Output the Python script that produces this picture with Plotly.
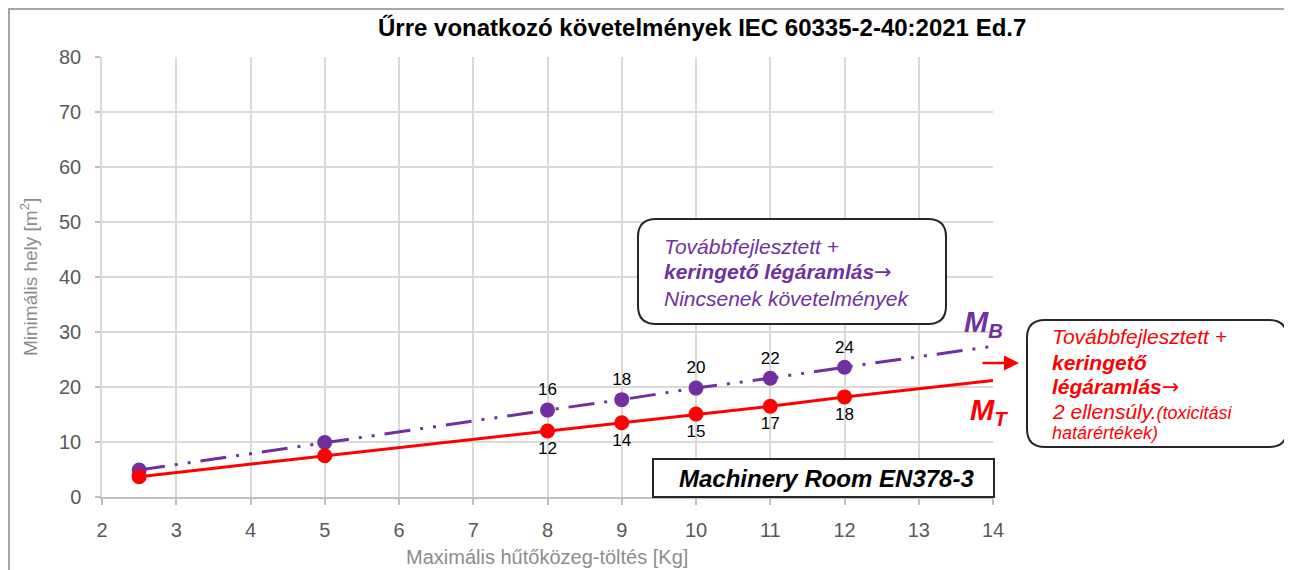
import plotly.graph_objects as go

# ---------------- data ----------------
charge_kg = [2.5, 5, 8, 9, 10, 11, 12, 14]
mt_values = [3.7, 7.5, 12.0, 13.5, 15.1, 16.5, 18.2, 21.2]
mb_values = [4.9, 9.9, 15.8, 17.7, 19.8, 21.6, 23.6, 27.4]
mt_labels = ["", "", "12", "14", "15", "17", "18", ""]
mb_labels = ["", "", "16", "18", "20", "22", "24", ""]
x_ticks = list(range(2, 15))
y_ticks = list(range(0, 90, 10))

title_text = "Űrre vonatkozó követelmények IEC 60335-2-40:2021 Ed.7"
x_title = "Maximális hűtőközeg-töltés [Kg]"
y_title = "Minimális hely [m<sup>2</sup>]"

PURPLE = "#7030A0"
RED = "#FF0000"
FONT = "Liberation Sans, Arial, sans-serif"
ARROW = "<span style='font-family:DejaVu Sans'>→</span>"

OFF = 8  # page body margin
W, H = 1292 - OFF, 570 - OFF
L, R, T, B = 102, 993, 57, 497  # plot area in window pixels


def px(x):
    return (x - L) / (R - L)


def py(y):
    return (B - y) / (B - T)


def rounded_rect(x0, y0, x1, y1, r):
    rx = r / (R - L)
    ry = r / (B - T)
    X0, X1 = px(x0), px(x1)
    Yt, Yb = py(y0), py(y1)
    return (f"M {X0+rx},{Yt} L {X1-rx},{Yt} Q {X1},{Yt} {X1},{Yt-ry} "
            f"L {X1},{Yb+ry} Q {X1},{Yb} {X1-rx},{Yb} L {X0+rx},{Yb} "
            f"Q {X0},{Yb} {X0},{Yb+ry} L {X0},{Yt-ry} Q {X0},{Yt} {X0+rx},{Yt} Z")


n = len(charge_kg)
marker_sizes = [15] * (n - 1) + [0]

fig = go.Figure()
fig.add_trace(go.Scatter(
    x=charge_kg, y=mb_values, mode="lines+markers+text",
    line=dict(color=PURPLE, width=3, dash="26px,10px,3px,10px,3px,10px"),
    marker=dict(color=PURPLE, size=marker_sizes, opacity=1, line=dict(width=0)),
    text=mb_labels, textposition="top center",
    textfont=dict(family=FONT, size=17, color="#000000"),
    cliponaxis=False, showlegend=False))
fig.add_trace(go.Scatter(
    x=charge_kg, y=mt_values, mode="lines+markers+text",
    line=dict(color=RED, width=3),
    marker=dict(color=RED, size=marker_sizes, opacity=1, line=dict(width=0)),
    text=mt_labels, textposition="bottom center",
    textfont=dict(family=FONT, size=17, color="#000000"),
    cliponaxis=False, showlegend=False))

shapes = [
    # outer chart frame
    dict(type="rect", xref="paper", yref="paper", x0=px(9), x1=px(1287), y0=py(620), y1=py(9),
         line=dict(color="#a6a6a6", width=2), layer="below"),
    # purple callout
    dict(type="path", xref="paper", yref="paper", path=rounded_rect(638, 219, 946, 324, 18),
         line=dict(color="#262626", width=2), fillcolor="white", layer="above"),
    # red callout
    dict(type="path", xref="paper", yref="paper", path=rounded_rect(1027, 320, 1287, 447, 18),
         line=dict(color="#262626", width=2), fillcolor="white", layer="above"),
    # Machinery room box
    dict(type="rect", xref="paper", yref="paper", x0=px(653), x1=px(994), y0=py(497), y1=py(459),
         line=dict(color="#262626", width=2), fillcolor="white", layer="above"),
]

ann = []


def text_at(x, y, txt, size, color, xanchor="left"):
    ann.append(dict(xref="paper", yref="paper", x=px(x), y=py(y), text=txt, showarrow=False,
                    xanchor=xanchor, yanchor="middle",
                    font=dict(family=FONT, size=size, color=color)))


# title
text_at(702, 28, f"<b>{title_text}</b>", 24, "#000000", "center")
# axis titles
text_at(547, 557, x_title, 20, "#8c8c8c", "center")
ann.append(dict(xref="paper", yref="paper", x=px(29), y=py(277), text=y_title, showarrow=False,
                textangle=-90, xanchor="center", yanchor="middle",
                font=dict(family=FONT, size=19, color="#8c8c8c")))

# purple callout text
text_at(662, 246, "<i>Továbbfejlesztett +</i>", 21, PURPLE)
text_at(662, 272, f"<b><i>keringető légáramlás</i></b>{ARROW}", 21, PURPLE)
text_at(662, 298, "<i>Nincsenek követelmények</i>", 21, PURPLE)

# red callout text
text_at(1050, 336, "<i>Továbbfejlesztett +</i>", 21, RED)
text_at(1050, 362, "<b><i>keringető</i></b>", 21, RED)
text_at(1050, 387, f"<b><i>légáramlás</i></b>{ARROW}", 21, RED)
text_at(1050, 411, "<i>2 ellensúly.<span style='font-size:18px'>(toxicitási</span></i>", 21, RED)
text_at(1050, 433, "<i>határértékek)</i>", 18, RED)

# M_B / M_T labels
text_at(962, 324, "<b><i>M<sub>B</sub></i></b>", 29, PURPLE)
text_at(968, 412, "<b><i>M<sub>T</sub></i></b>", 29, RED)

# machinery room text
text_at(826, 478, "<b><i>Machinery Room EN378-3</i></b>", 24, "#000000", "center")

# red arrow
ann.append(dict(xref="paper", yref="paper", x=px(1019), y=py(363), ax=-38, ay=0, text="",
                showarrow=True, arrowhead=2, arrowsize=1.2, arrowwidth=2.5, arrowcolor=RED))

fig.update_layout(
    width=W, height=H,
    margin=dict(l=L - OFF, r=W - (R - OFF), t=T - OFF, b=H - (B - OFF), autoexpand=False),
    paper_bgcolor="white", plot_bgcolor="white",
    shapes=shapes, annotations=ann, showlegend=False,
    font=dict(family=FONT),
)
fig.update_xaxes(range=[2, 14], tickvals=x_ticks, showgrid=True, gridcolor="#d9d9d9", gridwidth=1.5,
                 showline=True, linecolor="#bfbfbf", linewidth=1.5, ticks="outside", ticklen=6,
                 tickcolor="#bfbfbf", tickwidth=1.5, ticklabelstandoff=8,
                 tickfont=dict(family=FONT, size=20, color="#595959"), zeroline=False, fixedrange=True)
fig.update_yaxes(range=[0, 80], tickvals=y_ticks, showgrid=True, gridcolor="#d9d9d9", gridwidth=1.5,
                 showline=True, linecolor="#d9d9d9", linewidth=1.5, ticks="outside", ticklen=5,
                 tickcolor="#bfbfbf", tickwidth=1.5, ticklabelstandoff=10,
                 tickfont=dict(family=FONT, size=20, color="#595959"), zeroline=False, fixedrange=True)

fig.write_html("out.html")
